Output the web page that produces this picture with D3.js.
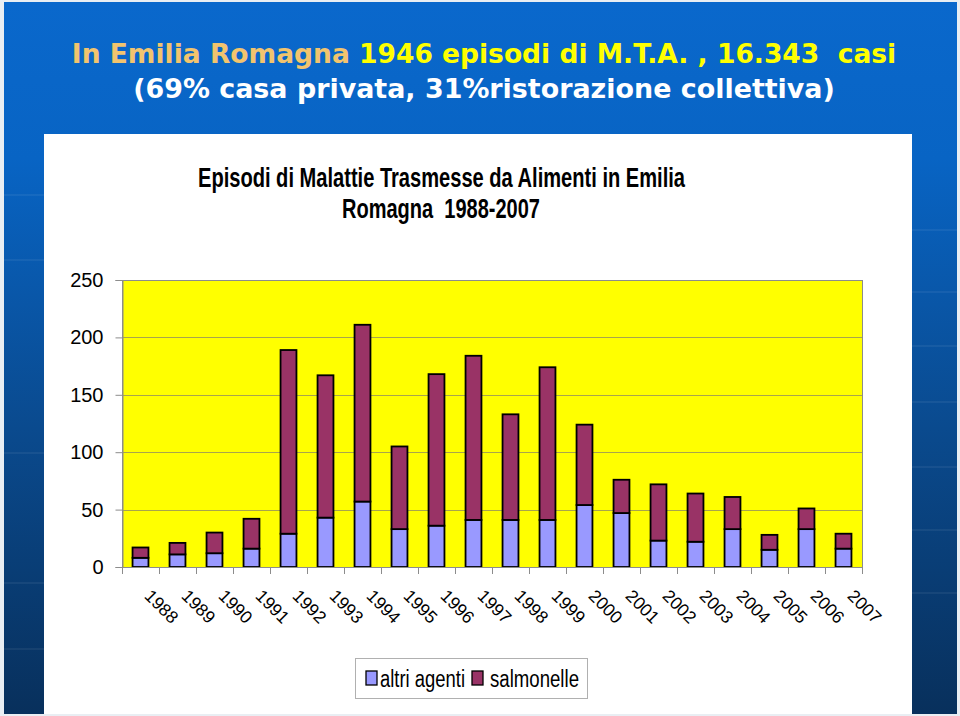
<!DOCTYPE html>
<html>
<head>
<meta charset="utf-8">
<script src="https://cdn.jsdelivr.net/npm/d3@7"></script>
<style>
  html, body { margin: 0; padding: 0; background: #e9eef3; }
  svg { display: block; }
  text { white-space: pre; }
</style>
</head>
<body>
<svg id="slide" width="960" height="716"></svg>
<script>
const years = ["1988", "1989", "1990", "1991", "1992", "1993", "1994", "1995", "1996", "1997",
    "1998", "1999", "2000", "2001", "2002", "2003", "2004", "2005", "2006", "2007"];
const altriAgenti = [8, 11, 12, 16, 29, 43, 57, 33, 36, 41, 41, 41, 54, 47, 23, 22, 33, 15, 33, 16];
const salmonelle = [9, 10, 18, 26, 160, 124, 154, 72, 132, 143, 92, 133, 70, 29, 49, 42, 28, 13, 18, 13];
const yTicks = [0, 50, 100, 150, 200, 250];
const seriesNames = ["altri agenti", "salmonelle"];

const ctx = {
    PLOT_LEFT: 122,
    PLOT_RIGHT: 862,
    PLOT_TOP: 280,
    PLOT_BOTTOM: 567,
    ALTRI_COLOR: "#9999ff",
    SALM_COLOR: "#993366",
    YELLOW: "#ffff00",
    GRID: "#a8a44c",
    AXIS: "#8c8c8c",
};

const svg = d3.select("#slide");

drawBackground();
drawTitles();
drawChart();

function drawBackground() {
    const defs = svg.append("defs");
    const grad = defs.append("linearGradient")
        .attr("id", "bgGrad")
        .attr("x1", 0).attr("y1", 0).attr("x2", 0).attr("y2", 1);
    grad.append("stop").attr("offset", "0%").attr("stop-color", "#0a68cc");
    grad.append("stop").attr("offset", "22%").attr("stop-color", "#0864c4");
    grad.append("stop").attr("offset", "60%").attr("stop-color", "#0a4a8e");
    grad.append("stop").attr("offset", "100%").attr("stop-color", "#08305c");

    svg.append("rect")
        .attr("x", 4).attr("y", 2)
        .attr("width", 953).attr("height", 712)
        .attr("fill", "url(#bgGrad)");

    // faint template grid lines in the side strips
    const leftLines = [195, 260, 453, 583, 649];
    const rightLines = [230, 292, 346, 402, 467, 530, 593];
    svg.selectAll(".lline").data(leftLines).enter().append("line")
        .attr("x1", 4).attr("x2", 44)
        .attr("y1", d => d).attr("y2", d => d)
        .attr("stroke", "#ffffff").attr("stroke-opacity", 0.12);
    svg.selectAll(".rline").data(rightLines).enter().append("line")
        .attr("x1", 912).attr("x2", 957)
        .attr("y1", d => d).attr("y2", d => d)
        .attr("stroke", "#ffffff").attr("stroke-opacity", 0.12);

    // white chart panel
    svg.append("rect")
        .attr("x", 44).attr("y", 134)
        .attr("width", 868).attr("height", 580)
        .attr("fill", "#ffffff");
}

function fitText(sel, target) {
    const w = sel.node().getComputedTextLength();
    const fs = parseFloat(sel.attr("font-size"));
    sel.attr("font-size", (fs * target / w).toFixed(2));
}

function drawTitles() {
    const t1 = svg.append("text")
        .attr("x", 484).attr("y", 63)
        .attr("text-anchor", "middle")
        .attr("font-family", "DejaVu Sans, Verdana, sans-serif")
        .attr("font-weight", "bold")
        .attr("font-size", 25);
    t1.append("tspan").attr("fill", "#f2c46e").text("In Emilia Romagna ");
    t1.append("tspan").attr("fill", "#ffff00").text("1946 episodi di M.T.A. , 16.343  casi");
    fitText(t1, 825);

    const t2 = svg.append("text")
        .attr("x", 484).attr("y", 98)
        .attr("text-anchor", "middle")
        .attr("font-family", "DejaVu Sans, Verdana, sans-serif")
        .attr("font-weight", "bold")
        .attr("font-size", 25)
        .attr("fill", "#ffffff")
        .text("(69% casa privata, 31%ristorazione collettiva)");
    fitText(t2, 702);

    svg.append("text")
        .attr("x", 441.5).attr("y", 187)
        .attr("text-anchor", "middle")
        .attr("font-family", "Liberation Sans Narrow, Liberation Sans, Arial, sans-serif")
        .attr("font-weight", "bold")
        .attr("font-size", 27)
        .attr("textLength", 487)
        .attr("lengthAdjust", "spacingAndGlyphs")
        .text("Episodi di Malattie Trasmesse da Alimenti in Emilia");

    svg.append("text")
        .attr("x", 441).attr("y", 218)
        .attr("text-anchor", "middle")
        .attr("font-family", "Liberation Sans Narrow, Liberation Sans, Arial, sans-serif")
        .attr("font-weight", "bold")
        .attr("font-size", 27)
        .attr("textLength", 198)
        .attr("lengthAdjust", "spacingAndGlyphs")
        .text("Romagna  1988-2007");
}

function drawChart() {
    const rows = years.map((y, i) => ({ year: y, altri: altriAgenti[i], salm: salmonelle[i] }));
    const stacked = d3.stack().keys(["altri", "salm"])(rows);

    const x = d3.scaleBand()
        .domain(years)
        .range([ctx.PLOT_LEFT, ctx.PLOT_RIGHT])
        .paddingInner(0.57)
        .paddingOuter(0.285);
    const y = d3.scaleLinear()
        .domain([0, 250])
        .range([ctx.PLOT_BOTTOM, ctx.PLOT_TOP]);

    // plot area
    svg.append("rect")
        .attr("x", ctx.PLOT_LEFT).attr("y", ctx.PLOT_TOP)
        .attr("width", ctx.PLOT_RIGHT - ctx.PLOT_LEFT)
        .attr("height", ctx.PLOT_BOTTOM - ctx.PLOT_TOP)
        .attr("fill", ctx.YELLOW);

    svg.append("g").selectAll("line")
        .data(yTicks.filter(d => d > 0 && d < 250))
        .enter().append("line")
        .attr("x1", ctx.PLOT_LEFT).attr("x2", ctx.PLOT_RIGHT)
        .attr("y1", d => Math.round(y(d)) + 0.5).attr("y2", d => Math.round(y(d)) + 0.5)
        .attr("stroke", ctx.GRID);

    svg.append("rect")
        .attr("x", ctx.PLOT_LEFT + 0.5).attr("y", ctx.PLOT_TOP + 0.5)
        .attr("width", ctx.PLOT_RIGHT - ctx.PLOT_LEFT)
        .attr("height", ctx.PLOT_BOTTOM - ctx.PLOT_TOP)
        .attr("fill", "none")
        .attr("stroke", ctx.AXIS);

    // y axis
    const yAxis = svg.append("g")
        .attr("transform", `translate(${ctx.PLOT_LEFT + 0.5},0)`)
        .call(d3.axisLeft(y).tickValues(yTicks).tickSize(7).tickPadding(12));
    yAxis.select(".domain").attr("stroke", ctx.AXIS);
    yAxis.selectAll(".tick line").attr("stroke", ctx.AXIS);
    yAxis.selectAll(".tick text")
        .attr("font-family", "Liberation Sans, Arial, sans-serif")
        .attr("font-size", 20)
        .attr("fill", "#000");

    // bars
    const colors = { altri: ctx.ALTRI_COLOR, salm: ctx.SALM_COLOR };
    svg.append("g").selectAll("g")
        .data(stacked)
        .enter().append("g")
        .attr("fill", d => colors[d.key])
        .selectAll("rect")
        .data(d => d)
        .enter().append("rect")
        .attr("x", d => x(d.data.year))
        .attr("y", d => y(d[1]))
        .attr("width", x.bandwidth())
        .attr("height", d => y(d[0]) - y(d[1]))
        .attr("stroke", "#000")
        .attr("stroke-width", 1.8);

    // x axis with ticks between categories
    const bounds = years.map(d => x(d) - x.step() * x.paddingInner() / 2);
    bounds.push(ctx.PLOT_RIGHT);
    svg.append("line")
        .attr("x1", ctx.PLOT_LEFT).attr("x2", ctx.PLOT_RIGHT)
        .attr("y1", ctx.PLOT_BOTTOM + 0.5).attr("y2", ctx.PLOT_BOTTOM + 0.5)
        .attr("stroke", ctx.AXIS);
    svg.append("g").selectAll("line")
        .data(bounds)
        .enter().append("line")
        .attr("x1", d => Math.round(d) + 0.5).attr("x2", d => Math.round(d) + 0.5)
        .attr("y1", ctx.PLOT_BOTTOM).attr("y2", ctx.PLOT_BOTTOM + 7)
        .attr("stroke", ctx.AXIS);

    svg.append("g").selectAll("text")
        .data(years)
        .enter().append("text")
        .attr("transform", d => `translate(${x(d) + x.bandwidth() / 2 + 3},${ctx.PLOT_BOTTOM + 30}) rotate(45)`)
        .attr("font-family", "Liberation Sans, Arial, sans-serif")
        .attr("font-size", 17.5)
        .attr("fill", "#000")
        .text(d => d);

    // legend
    const legend = svg.append("g");
    legend.append("rect")
        .attr("x", 355.5).attr("y", 658.5)
        .attr("width", 232).attr("height", 40)
        .attr("fill", "#fff")
        .attr("stroke", "#b0b0b0");
    const items = [
        { name: seriesNames[0], color: ctx.ALTRI_COLOR, sx: 366, tx: 380, tw: 85 },
        { name: seriesNames[1], color: ctx.SALM_COLOR, sx: 472, tx: 490, tw: 89 },
    ];
    legend.selectAll(".sw").data(items).enter().append("rect")
        .attr("x", d => d.sx).attr("y", 671)
        .attr("width", 11).attr("height", 14)
        .attr("fill", d => d.color)
        .attr("stroke", "#000")
        .attr("stroke-width", 1.3);
    legend.selectAll(".lt").data(items).enter().append("text")
        .attr("x", d => d.tx).attr("y", 687)
        .attr("font-family", "Liberation Sans, Arial, sans-serif")
        .attr("font-size", 23)
        .attr("textLength", d => d.tw)
        .attr("lengthAdjust", "spacingAndGlyphs")
        .text(d => d.name);
}
</script>
</body>
</html>
